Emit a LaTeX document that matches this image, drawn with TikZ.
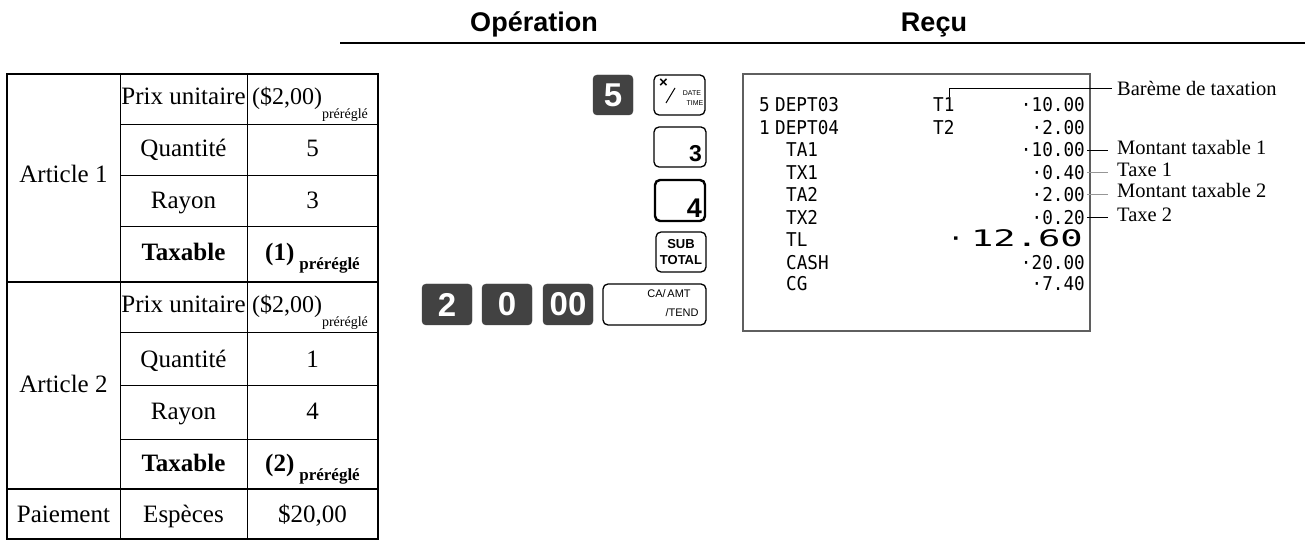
\documentclass[tikz,border=0pt]{standalone}
\usepackage{fontspec}
\usepackage{graphicx}
\setmainfont{Liberation Serif}
\newfontfamily\hdfont{Liberation Sans}
\newfontfamily\rcfont{DejaVu Sans Mono}[FakeStretch=0.93]
\definecolor{keydark}{RGB}{66,66,66}
\definecolor{boxgray}{RGB}{95,95,95}
\definecolor{leadgray}{RGB}{150,150,150}
\tikzset{
  cell/.style={inner sep=0pt, anchor=base, font=\fontsize{25}{25}\selectfont},
  hd/.style={inner sep=0pt, anchor=base, font=\hdfont\bfseries\fontsize{27}{27}\selectfont},
  dkey/.style={fill=keydark, draw=keydark, rounded corners=4pt, text=white, inner sep=0pt,
    font=\hdfont\bfseries\fontsize{33}{33}\selectfont},
  wkey/.style={draw=black, line width=1.3pt, rounded corners=5pt, fill=white, inner sep=0pt},
  ktext/.style={inner sep=0pt, font=\hdfont\fontsize{11}{11}\selectfont},
  rc/.style={inner sep=0pt, font=\rcfont\fontsize{19}{19}\selectfont},
  rcl/.style={rc, anchor=base west},
  rcr/.style={rc, anchor=base east},
  lbl/.style={inner sep=0pt, anchor=base west, font=\fontsize{20.5}{20.5}\selectfont},
  lead/.style={line width=1pt, shorten <=2pt, shorten >=9pt},
  tline/.style={line width=1pt},
}
\begin{document}
\begin{tikzpicture}[x=1pt,y=-1pt]
\useasboundingbox (0,0) rectangle (1307,545);

% header
\node[hd] (hop) at (534,32) {Opération};
\node[hd] (hre) at (934,32) {Reçu};
\draw[line width=1.8pt] (340,43) -- (1305,43);

% table grid
\draw[tline] (120,74) -- (120,539);
\draw[tline] (247,74) -- (247,539);
\foreach \yy in {125,176,227,333,385,439} \draw[tline] (120,\yy) -- (378,\yy);
\draw[line width=1.5pt] (7,282) -- (378,282);
\draw[line width=1.5pt] (7,489) -- (378,489);
\draw[line width=1.8pt] (7,74) rectangle (378,539);

% table texts
\node[cell] (art1) at (63.5,183) {Article 1};
\node[cell] (art2) at (63.5,392) {Article 2};
\node[cell] (pai) at (63.5,522) {Paiement};

\node[cell] (p1) at (183.5,105) {Prix unitaire};
\node[cell] (q1) at (183.5,157) {Quantité};
\node[cell] (r1) at (183.5,209) {Rayon};
\node[cell] (t1) at (183.5,261) {\bfseries Taxable};
\node[cell] (p2) at (183.5,313) {Prix unitaire};
\node[cell] (q2) at (183.5,367) {Quantité};
\node[cell] (r2) at (183.5,419) {Rayon};
\node[cell] (t2) at (183.5,471) {\bfseries Taxable};
\node[cell] (esp) at (183.5,522) {Espèces};

\node[cell] (vp1) at (310,105) {\fontsize{24}{24}\selectfont (\$2,00)\raisebox{-14pt}{\fontsize{14}{14}\selectfont préréglé}};
\node[cell] (vq1) at (312.5,157) {5};
\node[cell] (vr1) at (312.5,209) {3};
\node[cell] (vt1) at (312.5,261) {\bfseries (1)\hspace{5pt}\raisebox{-9pt}{\fontsize{17}{17}\selectfont préréglé}};
\node[cell] (vp2) at (310,313) {\fontsize{24}{24}\selectfont (\$2,00)\raisebox{-14pt}{\fontsize{14}{14}\selectfont préréglé}};
\node[cell] (vq2) at (312.5,367) {1};
\node[cell] (vr2) at (312.5,419) {4};
\node[cell] (vt2) at (312.5,471) {\bfseries (2)\hspace{5pt}\raisebox{-9pt}{\fontsize{17}{17}\selectfont préréglé}};
\node[cell] (vpa) at (312.5,522) {\$20,00};

% keys
\node[dkey, minimum width=40pt, minimum height=40pt] (k5) at (613,95) {5};
\node[wkey, minimum width=51pt, minimum height=40pt] (kx) at (679.5,95) {};
\node[inner sep=0pt, font=\hdfont\bfseries\fontsize{15}{15}\selectfont] (kxm) at (663.5,83) {×};
\draw[line width=1pt] (666,103) -- (675,88);
\node[ktext, font=\hdfont\fontsize{7}{7}\selectfont] (kxd) at (692,93) {DATE};
\node[ktext, font=\hdfont\fontsize{7}{7}\selectfont] (kxt) at (695,103) {TIME};

\node[wkey, minimum width=52pt, minimum height=40pt] (k3) at (680,147) {};
\node[inner sep=0pt, anchor=base east, font=\hdfont\bfseries\fontsize{23}{23}\selectfont] (k3n) at (702,162) {3};

\node[wkey, line width=2.4pt, minimum width=50pt, minimum height=41pt] (k4) at (680,200.5) {};
\node[inner sep=0pt, anchor=base east, font=\hdfont\bfseries\fontsize{27}{27}\selectfont] (k4n) at (702,218) {4};

\node[wkey, minimum width=50pt, minimum height=40pt] (ks) at (681,252) {};
\node[inner sep=0pt, font=\hdfont\bfseries\fontsize{13}{13}\selectfont] (ks1) at (681,244) {SUB};
\node[inner sep=0pt, font=\hdfont\bfseries\fontsize{13}{13}\selectfont] (ks2) at (681,260) {TOTAL};

\node[dkey, minimum width=50pt, minimum height=41pt] (k2) at (447,304.5) {2};
\node[dkey, minimum width=50pt, minimum height=41pt] (k0) at (507,304.5) {0};
\node[dkey, minimum width=50pt, minimum height=41pt] (k00) at (568,304.5) {00};
\node[wkey, minimum width=103pt, minimum height=41pt] (kca) at (654.5,304.5) {};
\node[ktext] (kca1) at (669,294) {CA/\,AMT};
\node[ktext] (kca2) at (682,313) {/TEND};

% receipt
\draw[boxgray, line width=1.5pt] (743,74) rectangle (1090,331);
\node[rcl] (n1) at (759,112) {5};
\node[rcl] (d1) at (775,112) {DEPT03};
\node[rcl] (tt1) at (933,112) {T1};
\node[rcr] (m1) at (1085,112) {·10.00};
\node[rcl] (n2) at (759,135) {1};
\node[rcl] (d2) at (775,135) {DEPT04};
\node[rcl] (tt2) at (933,135) {T2};
\node[rcr] (m2) at (1085,135) {·2.00};
\node[rcl] (ta1) at (786,157) {TA1};
\node[rcr] (m3) at (1085,157) {·10.00};
\node[rcl] (tx1) at (786,179.5) {TX1};
\node[rcr] (m4) at (1085,179.5) {·0.40};
\node[rcl] (ta2) at (786,201.5) {TA2};
\node[rcr] (m5) at (1085,201.5) {·2.00};
\node[rcl] (tx2) at (786,224.5) {TX2};
\node[rcr] (m6) at (1085,224.5) {·0.20};
\node[rcl] (tl) at (786,247) {TL};
\node[rc, anchor=base] (tld) at (956,247) {\scalebox{1.6}[1.2]{·}};
\node[rcr] (m7) at (1083,247) {\scalebox{2.1}[1.2]{12.60}};
\node[rcl] (cash) at (786,269.5) {CASH};
\node[rcr] (m8) at (1085,269.5) {·20.00};
\node[rcl] (cg) at (786,291) {CG};
\node[rcr] (m9) at (1085,291) {·7.40};

% labels
\node[lbl] (l0) at (1117,95.5) {Barème de taxation};
\node[lbl] (l1) at (1117,155) {Montant taxable 1};
\node[lbl] (l2) at (1117,176.5) {Taxe 1};
\node[lbl] (l3) at (1117,198) {Montant taxable 2};
\node[lbl] (l4) at (1117,221.5) {Taxe 2};

\coordinate (brk) at (949,97);
\draw[line width=1pt, shorten >=5pt] (brk) |- (l0.west);
\draw[lead] (m3.east) -- (m3.east -| l1.west);
\draw[lead, leadgray] (m4.east) -- (m4.east -| l2.west);
\draw[lead, leadgray] (m5.east) -- (m5.east -| l3.west);
\draw[lead] (m6.east) -- (m6.east -| l4.west);
\end{tikzpicture}
\end{document}
